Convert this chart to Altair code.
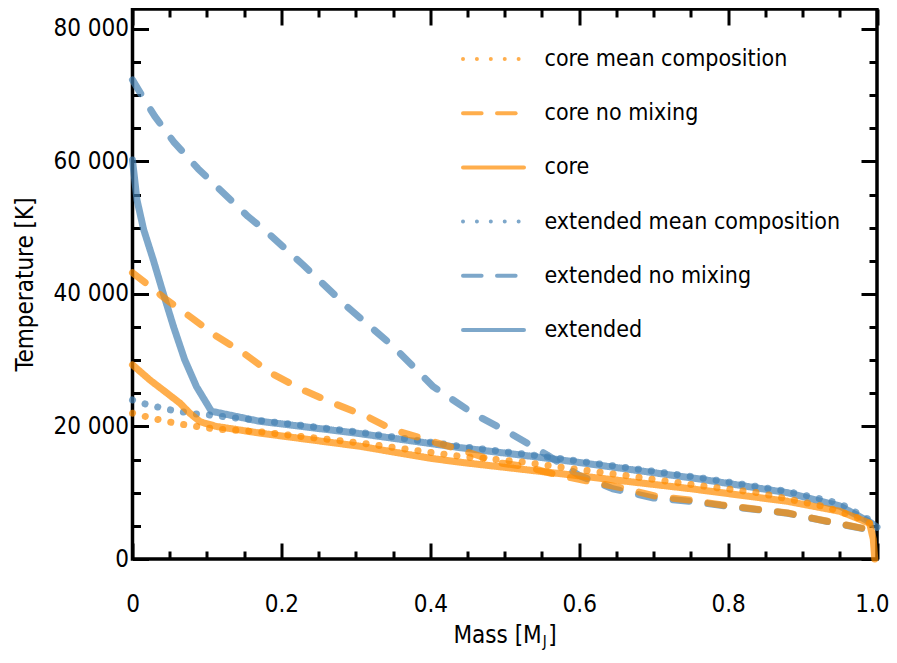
import altair as alt
import pandas as pd

FONT = "DejaVu Sans Condensed"

SERIES = ["core mean composition", "core no mixing", "core",
          "extended mean composition", "extended no mixing", "extended"]
COLORS = ["#FF8C00", "#FF8C00", "#FF8C00", "#4682B4", "#4682B4", "#4682B4"]
DASHES = [[0.1, 13], [16, 19], [1, 0], [0.1, 13], [16, 19], [1, 0]]
LEGEND_DASHES = [[0.01, 13.9], [18.6, 15.4], [1, 0], [0.01, 13.9], [18.6, 15.4], [1, 0]]

core_mean_mass = [0, .021, .04, .058, .076, .095, .114, .17, .306, .386, .44, .52, .565, .655, .76, .84, .93, .98, 1.0]
core_mean_temp = [22000, 21400, 20900, 20500, 20150, 19850, 19600, 19200, 17500, 16300, 15500, 14700, 14000, 12700, 11100, 10000, 7900, 6000, 4800]

core_nomix_mass = [0, .024, .046, .077, .113, .149, .185, .229, .27, .315, .35, .395, .44, .494, .53, .57, .614, .659, .704, .745, .79, .88, .923, .978, 1.0]
core_nomix_temp = [43200, 41100, 39100, 36600, 33600, 31100, 28100, 25500, 23500, 21500, 19500, 18000, 16500, 14500, 13900, 12700, 11700, 10700, 9440, 8940, 8190, 6940, 5930, 4700, 4300]

core_mass = [0, .0235, .041, .064, .077, .091, .113, .171, .306, .40, .44, .565, .65, .75, .88, .95, .99, .995, .997]
core_temp = [29300, 27000, 25500, 23500, 22000, 20700, 20000, 19000, 17000, 15200, 14600, 13000, 11900, 10600, 8700, 7200, 5400, 3000, 0]

ext_mean_mass = [0, .01, .028, .046, .064, .084, .101, .17, .30, .44, .565, .63, .76, .88, .95, .99, 1.0]
ext_mean_temp = [24000, 23600, 23100, 22600, 22250, 21900, 21750, 20900, 19200, 17000, 15300, 14300, 12300, 10200, 8400, 5900, 5000]

ext_nomix_mass = [0, .015, .03, .055, .088, .155, .18, .229, .288, .35, .404, .457, .507, .557, .60, .645, .70, .75, .79, .88, .923, .978, 1.0]
ext_nomix_temp = [72300, 69500, 66800, 63000, 58900, 51700, 49400, 44400, 38100, 32100, 26000, 22000, 19000, 15700, 12600, 10600, 9200, 8700, 8100, 6900, 5900, 4650, 4200]

ext_mass = [0, .006, .015, .028, .041, .055, .07, .086, .106, .17, .30, .44, .565, .63, .76, .88, .95, .99, 1.0]
ext_temp = [60200, 54200, 49700, 45100, 40200, 35100, 30100, 26000, 22300, 20800, 19000, 16800, 15100, 14100, 12100, 10000, 8000, 5600, 4800]

x_major = [0, 0.2, 0.4, 0.6, 0.8, 1.0]
x_minor = [round(i * 0.05, 2) for i in range(21)]
y_major = [0, 20000, 40000, 60000, 80000]
y_minor = [i * 5000 for i in range(17)]


def frame(name, mass, temp):
    return pd.DataFrame({"M": mass, "T": temp, "series": name, "i": range(len(mass))})


df_orange = pd.concat([
    frame("core", core_mass, core_temp),
    frame("core no mixing", core_nomix_mass, core_nomix_temp),
    frame("core mean composition", core_mean_mass, core_mean_temp),
])
df_blue = pd.concat([
    frame("extended", ext_mass, ext_temp),
    frame("extended no mixing", ext_nomix_mass, ext_nomix_temp),
    frame("extended mean composition", ext_mean_mass, ext_mean_temp),
])
df_all = pd.concat([df_blue, df_orange])

W = 744.5
H = 550
XS = alt.Scale(domain=[0, 1], nice=False, zero=False)
YS = alt.Scale(domain=[0, 83000], nice=False, zero=False)

color = alt.Color("series:N", scale=alt.Scale(domain=SERIES, range=COLORS), legend=None)
dash = alt.StrokeDash("series:N", scale=alt.Scale(domain=SERIES, range=DASHES), legend=None)

x_tick_size = {"condition": {"test": "abs(round(datum.value*5) - datum.value*5) < 0.001", "value": 16}, "value": 8}
y_tick_size = {"condition": {"test": "datum.value % 20000 === 0", "value": 16}, "value": 8}
x_label_align = {"condition": {"test": "datum.value == 1", "value": "right"}, "value": "center"}
x_label_offset = {"condition": {"test": "datum.value == 1", "value": 12}, "value": 0}

line_kw = dict(strokeWidth=7, opacity=0.7, strokeCap="round", strokeJoin="round")

blue = alt.Chart(df_blue).mark_line(**line_kw).encode(
    x=alt.X("M:Q", scale=XS, axis=alt.Axis(orient="bottom", values=x_major, ticks=False,
            domain=False, grid=False, title=None, labelPadding=33, labelFlush=False,
            labelAlign=x_label_align, labelOffset=x_label_offset,
            labelExpr="datum.value == 0 ? '0' : format(datum.value, '.1f')")),
    y=alt.Y("T:Q", scale=YS, axis=alt.Axis(orient="left", values=y_major, ticks=False,
            domain=False, grid=False, title="Temperature [K]", labelPadding=4,
            labelFlush=False, titlePadding=15, titleFontSize=24, titleFont=FONT,
            titleColor="black", titleFontWeight="normal",
            labelExpr="datum.value == 0 ? '0' : replace(format(datum.value, ','), ',', ' ')")),
    color=color, strokeDash=dash, order="i:Q",
)

orange = alt.Chart(df_orange).mark_line(**line_kw).encode(
    x=alt.X("M:Q", scale=XS, axis=None),
    y=alt.Y("T:Q", scale=YS, axis=None),
    color=color, strokeDash=dash, order="i:Q",
)

ticks_a = alt.Chart(df_all).mark_point(opacity=0).encode(
    x=alt.X("M:Q", scale=XS, axis=alt.Axis(orient="top", offset=-H, values=x_minor, labels=False,
            domain=False, grid=False, title=None, tickSize=x_tick_size)),
    y=alt.Y("T:Q", scale=YS, axis=alt.Axis(orient="right", offset=-W, values=y_minor, labels=False,
            domain=False, grid=False, title=None, tickSize=y_tick_size)),
)
ticks_b = alt.Chart(df_all).mark_point(opacity=0).encode(
    x=alt.X("M:Q", scale=XS, axis=alt.Axis(orient="bottom", offset=-H, values=x_minor, labels=False,
            domain=False, grid=False, title=None, tickSize=x_tick_size)),
    y=alt.Y("T:Q", scale=YS, axis=alt.Axis(orient="left", offset=-W, values=y_minor, labels=False,
            domain=False, grid=False, title=None, tickSize=y_tick_size)),
)

# manual legend (round-capped symbols, as in the reference)
legend_layers = []
for k, name in enumerate(SERIES):
    row_y = 50 + 54.2 * k
    ld = pd.DataFrame({"series": [name]})
    legend_layers.append(
        alt.Chart(ld).mark_rule(strokeWidth=4, opacity=0.7, strokeCap="round",
                                color=COLORS[k], strokeDash=LEGEND_DASHES[k]).encode(
            x=alt.value(330.5), x2=alt.value(391.5), y=alt.value(row_y))
    )
    legend_layers.append(
        alt.Chart(ld).mark_text(align="left", baseline="middle", font=FONT, fontSize=23,
                                color="black").encode(
            text="series:N", x=alt.value(412), y=alt.value(row_y))
    )

title_df = pd.DataFrame({"t": ["Mass [M"], "j": ["J"], "b": ["]"]})
t1 = alt.Chart(title_df).mark_text(align="right", baseline="alphabetic", font=FONT,
                                   fontSize=24, color="black").encode(
    text="t:N", x=alt.value(409.2), y=alt.value(634))
t2 = alt.Chart(title_df).mark_text(align="left", baseline="alphabetic", font=FONT,
                                   fontSize=15, color="black").encode(
    text="j:N", x=alt.value(410.2), y=alt.value(638))
t3 = alt.Chart(title_df).mark_text(align="left", baseline="alphabetic", font=FONT,
                                   fontSize=24, color="black").encode(
    text="b:N", x=alt.value(415.7), y=alt.value(634))

chart = alt.layer(blue, orange, ticks_a, ticks_b, *legend_layers, t1, t2, t3).resolve_axis(
    x="independent", y="independent"
).properties(
    width=W, height=H,
    autosize=alt.AutoSizeParams(type="none"),
    padding={"left": 124.5, "top": 1, "right": 12, "bottom": 95},
).configure_view(
    stroke="black", strokeWidth=3.5
).configure_axis(
    labelFont=FONT, labelFontSize=24, labelColor="black",
    tickColor="black", tickWidth=3,
)

chart.save("out.html", embed_options={"renderer": "svg", "actions": False})
